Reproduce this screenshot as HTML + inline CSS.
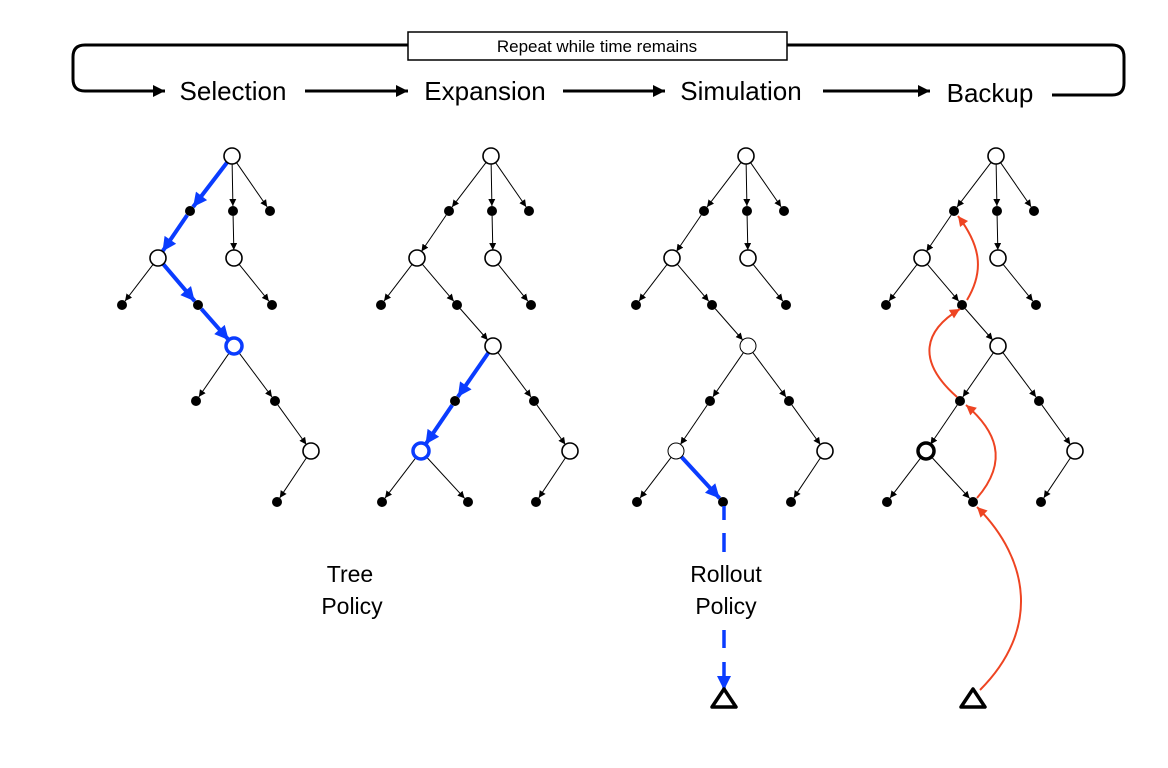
<!DOCTYPE html>
<html><head><meta charset="utf-8"><style>
html,body{margin:0;padding:0;background:#fff;}
svg{display:block;font-family:"Liberation Sans",Arial,sans-serif;}
</style></head><body>
<svg id="s" width="1168" height="768" viewBox="0 0 1168 768" xmlns="http://www.w3.org/2000/svg">
<defs>
<marker id="mk" viewBox="0 0 10 10" refX="10" refY="5" markerWidth="7" markerHeight="7" markerUnits="userSpaceOnUse" orient="auto"><path d="M0,0L10,5L0,10z" fill="#000"/></marker>
<marker id="mh" viewBox="0 0 10 10" refX="10" refY="5" markerWidth="16" markerHeight="12" markerUnits="userSpaceOnUse" orient="auto"><path d="M0,0L10,5L0,10z" fill="#000"/></marker>
<marker id="mb" viewBox="0 0 10 10" refX="10" refY="5" markerWidth="16" markerHeight="14" markerUnits="userSpaceOnUse" orient="auto"><path d="M0,0L10,5L0,10z" fill="#0a3cff"/></marker>
<marker id="mr" viewBox="0 0 10 10" refX="10" refY="5" markerWidth="11" markerHeight="10" markerUnits="userSpaceOnUse" orient="auto"><path d="M0,0L10,5L0,10z" fill="#ee4422"/></marker>
</defs>
<path d="M408,45 H85 Q73,45 73,57 V79 Q73,91 85,91 H165" fill="none" stroke="#000" stroke-width="3" marker-end="url(#mh)"/>
<path d="M787,45 H1112 Q1124,45 1124,57 V83 Q1124,95 1112,95 H1052" fill="none" stroke="#000" stroke-width="3"/>
<rect x="408" y="32" width="379" height="28" fill="#fff" stroke="#000" stroke-width="1.5"/>
<text x="597" y="52" font-size="17" text-anchor="middle">Repeat while time remains</text>
<line x1="305" y1="91" x2="408" y2="91" stroke="#000" stroke-width="3" marker-end="url(#mh)"/>
<line x1="563" y1="91" x2="665" y2="91" stroke="#000" stroke-width="3" marker-end="url(#mh)"/>
<line x1="823" y1="91" x2="930" y2="91" stroke="#000" stroke-width="3" marker-end="url(#mh)"/>
<text x="233" y="100" font-size="26" text-anchor="middle">Selection</text>
<text x="485" y="100" font-size="26" text-anchor="middle">Expansion</text>
<text x="741" y="100" font-size="26" text-anchor="middle">Simulation</text>
<text x="990" y="102" font-size="26" text-anchor="middle">Backup</text>
<text x="350" y="582" font-size="23" text-anchor="middle">Tree</text>
<text x="352" y="614" font-size="23" text-anchor="middle">Policy</text>
<text x="726" y="582" font-size="23" text-anchor="middle">Rollout</text>
<text x="726" y="614" font-size="23" text-anchor="middle">Policy</text>
<g id="g"></g>
<g stroke="#0a3cff" stroke-width="3.5">
<line x1="724" y1="506" x2="724" y2="520"/>
<line x1="724" y1="533" x2="724" y2="552"/>
<line x1="724" y1="630" x2="724" y2="648"/>
<line x1="724" y1="662" x2="724" y2="690" marker-end="url(#mb)"/>
</g>
<path d="M724,689 L736,707 L712,707 Z" fill="none" stroke="#000" stroke-width="3.5" stroke-linejoin="round"/>
<path d="M973,689 L985,707 L961,707 Z" fill="none" stroke="#000" stroke-width="3.5" stroke-linejoin="round"/>
<g fill="none" stroke="#ee4422" stroke-width="2">
<path d="M980,690 C1040,630 1030,560 977,507" marker-end="url(#mr)"/>
<path d="M977,498 C1010,460 995,430 966,405" marker-end="url(#mr)"/>
<path d="M957,397 C915,360 925,330 960,309" marker-end="url(#mr)"/>
<path d="M967,300 C985,270 980,245 958,216" marker-end="url(#mr)"/>
</g>
</svg>
<script>
var N={R:[232,156,'c'],a:[190,211,'d'],b:[233,211,'d'],c:[270,211,'d'],A:[158,258,'c'],B:[234,258,'c'],
d:[122,305,'d'],e:[198,305,'d'],f:[272,305,'d'],C:[234,346,'c'],g:[196,401,'d'],h:[275,401,'d'],
D:[311,451,'c'],j:[277,502,'d'],E:[162,451,'c'],k:[123,502,'d'],l:[209,502,'d']};
var Ebase=[['R','a'],['R','b'],['R','c'],['a','A'],['b','B'],['A','d'],['A','e'],['B','f'],['e','C'],['C','g'],['C','h'],['h','D'],['D','j']];
var Eext=[['g','E'],['E','k'],['E','l']];
var panels=[
 {dx:0,ext:false,blue:['R-a','a-A','A-e','e-C'],bc:'C'},
 {dx:259,ext:true,blue:['C-g','g-E'],bc:'E'},
 {dx:514,ext:true,blue:['E-l'],fill:{C:1,E:1}},
 {dx:764,ext:true,blue:[],bold:'E'}
];
var out='';
function R(n){return N[n][2]=='c'?8:5;}
panels.forEach(function(p){
 var es=Ebase.concat(p.ext?Eext:[]);
 es.forEach(function(e){
  var a=N[e[0]],b=N[e[1]];var x1=a[0]+p.dx,y1=a[1],x2=b[0]+p.dx,y2=b[1];
  var dx=x2-x1,dy=y2-y1,L=Math.sqrt(dx*dx+dy*dy),ux=dx/L,uy=dy/L;
  var sx=x1+ux*R(e[0]),sy=y1+uy*R(e[0]),ex=x2-ux*R(e[1]),ey=y2-uy*R(e[1]);
  var bl=p.blue.indexOf(e[0]+'-'+e[1])>=0;
  if(bl) out+='<line x1="'+sx+'" y1="'+sy+'" x2="'+ex+'" y2="'+ey+'" stroke="#0a3cff" stroke-width="4" marker-end="url(#mb)"/>';
  else out+='<line x1="'+sx+'" y1="'+sy+'" x2="'+ex+'" y2="'+ey+'" stroke="#000" stroke-width="1" marker-end="url(#mk)"/>';
 });
 var ns=Object.keys(N).filter(function(n){return p.ext||['E','k','l'].indexOf(n)<0;});
 ns.forEach(function(n){
  var v=N[n],x=v[0]+p.dx,y=v[1];
  if(v[2]=='d') out+='<circle cx="'+x+'" cy="'+y+'" r="5" fill="#000"/>';
  else{
   var st='#000',sw=1.6;
   if(p.bc==n){st='#0a3cff';sw=3.5;}
   if(p.bold==n){sw=3.5;}
   if(p.fill&&p.fill[n]){sw=1;}
   out+='<circle cx="'+x+'" cy="'+y+'" r="8" fill="#fff" stroke="'+st+'" stroke-width="'+sw+'"/>';
  }
 });
});
document.getElementById('g').innerHTML=out;
</script>
</body></html>
